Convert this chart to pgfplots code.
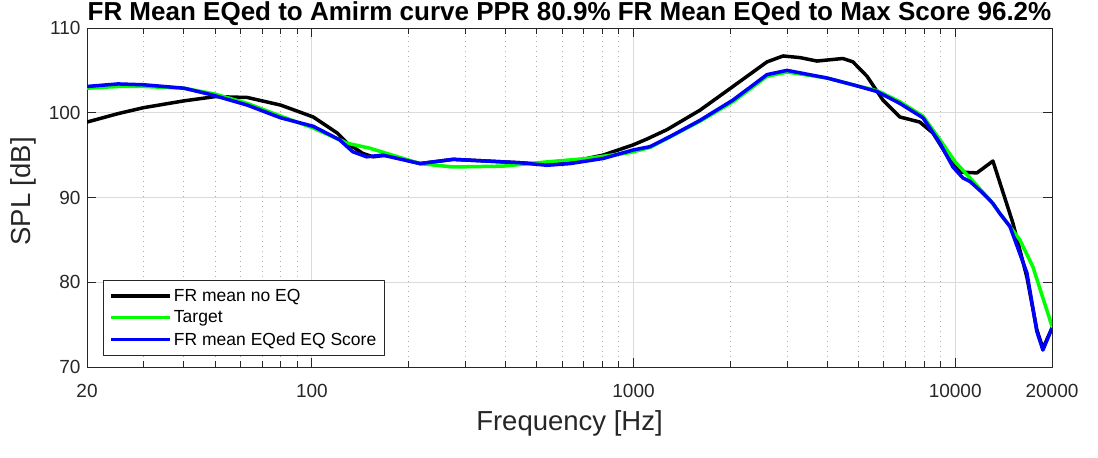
\documentclass[border=0pt]{standalone}
\usepackage{fontspec}
\setmainfont{Liberation Sans}
\usepackage{pgfplots}
\pgfplotsset{compat=1.18}

\definecolor{gridgray}{gray}{0.86}
\definecolor{axgray}{gray}{0.15}

\begin{document}
\begin{tikzpicture}
\begin{axis}[
    name=ax,
    scale only axis,
    width=965pt, height=339pt,
    xmode=log,
    xmin=20, xmax=20000,
    ymin=70, ymax=110,
    xtick={20,100,1000,10000,20000},
    xticklabels={20,100,1000,10000,20000},
    minor xtick={30,40,50,60,70,80,90,200,300,400,500,600,700,800,900,2000,3000,4000,5000,6000,7000,8000,9000},
    ytick={70,80,90,100,110},
    tick align=inside,
    major tick length=9pt,
    minor tick length=6pt,
    xmajorgrids, xminorgrids, ymajorgrids,
    major grid style={gridgray, line width=0.8pt},
    minor grid style={gray!65, line width=0.8pt, dash pattern=on 1pt off 4pt},
    axis line style={axgray, line width=0.9pt},
    every tick/.style={axgray, line width=0.9pt},
    tick label style={font=\fontsize{19}{22}\selectfont, text=black!85},
    yticklabel style={/pgf/number format/assume math mode=true, xshift=-3pt},
    xticklabel style={yshift=-14pt},
    xlabel={Frequency [Hz]},
    ylabel={SPL [dB]},
    label style={font=\fontsize{27.5}{32}\selectfont, text=black!85},
    xlabel style={at={(axis description cs:0.5,-0.165)}, anchor=center},
    ylabel style={at={(axis description cs:-0.066,0.518)}, anchor=center},
    every axis title shift=0pt,
    title={FR Mean EQed to Amirm curve PPR 80.9\% FR Mean EQed to Max Score 96.2\%},
    title style={font=\fontsize{26}{30}\selectfont\bfseries, at={(axis description cs:0.5,1.021)}, anchor=base},
    legend style={at={(axis description cs:0.0166,0.0324)}, anchor=south west,
        font=\fontsize{17.5}{21}\selectfont, draw=axgray, line width=0.9pt,
        inner xsep=6pt, inner ysep=7pt, row sep=4pt,
        cells={anchor=west}},
    legend image code/.code={\draw[#1, line width=3.5pt] (0pt,0pt) -- (59pt,0pt);},
    line join=round,
]
\addplot[black, line width=3.5pt] coordinates {
(20,98.9) (25,99.9) (30,100.6) (40,101.4) (50,101.9) (63,101.8) (80,100.9)
(101,99.5) (120,97.6) (129,96.4) (144,95.2) (155,94.8) (171,95.0) (217,94.0)
(275,94.5) (350,94.3) (444,94.1) (538,93.9) (634,94.1) (716,94.6) (804,95.0)
(996,96.2) (1101,96.9) (1270,98.0) (1609,100.3) (2038,103.1) (2600,106.0)
(2917,106.7) (3300,106.5) (3716,106.1) (4477,106.4) (4810,106.0) (5320,104.3)
(5960,101.5) (6732,99.5) (7762,98.9) (8532,97.6) (9630,94.4) (10350,93.0)
(11680,92.9) (13100,94.3) (15110,87.0) (16710,80.6) (17940,74.4) (18740,72.2)
(20000,74.6)
};
\addlegendentry{FR mean no EQ}
\addplot[green, line width=3.5pt] coordinates {
(20,102.9) (25,103.1) (30,103.1) (40,102.9) (50,102.2) (63,101.1) (80,99.6)
(101,98.2) (129,96.4) (152,95.8) (171,95.2) (217,94.0) (275,93.6) (393,93.7)
(538,94.2) (716,94.6) (975,95.3) (1125,95.9) (1609,99.0) (2038,101.3)
(2600,104.3) (3000,104.8) (4000,104.1) (4810,103.3) (5716,102.6) (6732,101.3)
(7940,99.6) (8970,96.8) (10000,94.2) (11000,92.5) (12830,89.7) (15890,85.0)
(17450,81.8) (20000,74.8)
};
\addlegendentry{Target}
\addplot[blue, line width=3.5pt] coordinates {
(20,103.1) (25,103.4) (30,103.3) (40,102.9) (49,102.1) (63,100.9) (80,99.4)
(101,98.4) (122,96.8) (134,95.4) (148,94.8) (166,95.0) (217,94.0) (275,94.5)
(350,94.3) (444,94.1) (538,93.8) (634,94.0) (804,94.6) (996,95.6) (1125,96.0)
(1300,97.2) (1609,99.1) (2038,101.5) (2600,104.5) (3000,105.0) (3993,104.1)
(4810,103.3) (5716,102.5) (6732,101.1) (7940,99.4) (8970,96.4) (9840,93.6)
(10570,92.3) (11110,91.9) (12200,90.5) (13100,89.3) (13770,88.1) (14790,86.6)
(16710,81.1) (17940,74.2) (18740,72.0) (20000,74.6)
};
\addlegendentry{FR mean EQed EQ Score}
\end{axis}
\pgfresetboundingbox
\path[use as bounding box] ([xshift=-87pt,yshift=-91pt]ax.south west) rectangle ([xshift=46pt,yshift=28pt]ax.north east);
\end{tikzpicture}
\end{document}
